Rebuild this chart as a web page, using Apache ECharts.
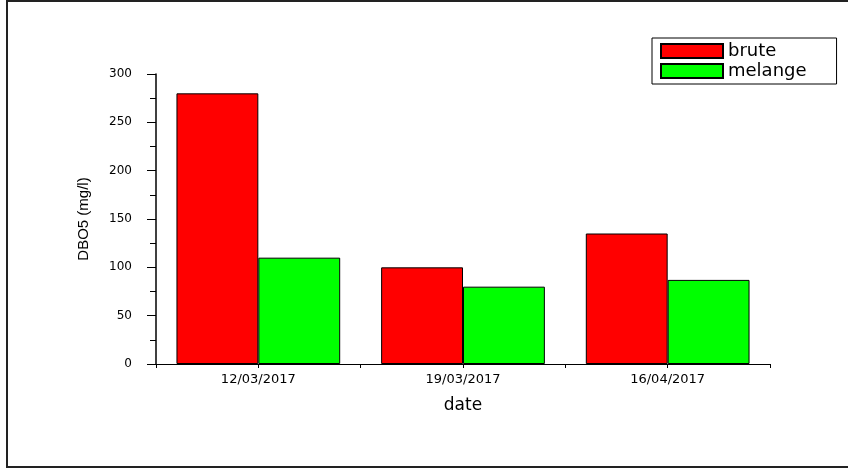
<!DOCTYPE html>
<html><head><meta charset="utf-8">
<script src="https://cdn.jsdelivr.net/npm/echarts@6/dist/echarts.min.js"></script>
<style>html,body{margin:0;padding:0;background:#fff}#c{width:848px;height:470px}</style>
</head><body><div id="c"></div>
<script>
const categories = ['12/03/2017', '19/03/2017', '16/04/2017'];
const brute = [280, 100, 135];
const melange = [110, 80, 87];
const yTicks = [0, 50, 100, 150, 200, 250, 300];

const chart = echarts.init(document.getElementById('c'), null, {renderer: 'canvas'});
const font = '"DejaVu Sans", Arial, sans-serif';
chart.setOption({
  animation: false,
  backgroundColor: '#fff',
  graphic: [{
    type: 'rect', shape: {x: 7, y: 1, width: 850, height: 466},
    style: {fill: 'none', stroke: '#222', lineWidth: 2}, silent: true
  }],
  grid: {left: 156, right: 78, top: 74, bottom: 106},
  legend: {
    orient: 'vertical', left: 652, top: 38,
    padding: [4, 30, 4, 8], itemGap: 2,
    itemWidth: 62, itemHeight: 14, icon: 'rect',
    borderColor: '#000', borderWidth: 1,
    textStyle: {fontFamily: font, fontSize: 18, color: '#000'},
    data: ['brute', 'melange']
  },
  xAxis: [{
    type: 'category', data: categories, position: 'bottom',
    name: 'date', nameLocation: 'middle', nameGap: 33,
    nameTextStyle: {fontFamily: font, fontSize: 17, color: '#000'},
    axisLine: {lineStyle: {color: '#000', width: 1}},
    axisTick: {show: true, length: 4, lineStyle: {color: '#000'}},
    axisLabel: {fontFamily: font, fontSize: 13, color: '#000', margin: 9}
  }, {
    type: 'category', data: categories, position: 'bottom',
    axisLine: {show: false},
    axisTick: {show: true, alignWithLabel: true, length: 4, lineStyle: {color: '#000'}},
    axisLabel: {show: false}
  }],
  yAxis: {
    type: 'value', min: 0, max: 300, interval: 50,
    name: 'DBO5 (mg/l)', nameLocation: 'middle', nameGap: 65,
    nameTextStyle: {fontFamily: 'Liberation Sans, Arial, sans-serif', fontSize: 15, color: '#000'},
    axisLine: {show: true, lineStyle: {color: '#000', width: 1.5}},
    axisTick: {show: true, length: 9, lineStyle: {color: '#000'}},
    minorTick: {show: true, splitNumber: 2, length: 6, lineStyle: {color: '#000'}},
    splitLine: {show: false},
    axisLabel: {fontFamily: font, fontSize: 12, color: '#000', margin: 24,
      formatter: v => yTicks.includes(v) ? String(v) : ''}
  },
  series: [{
    name: 'brute', type: 'bar', data: brute, barGap: '0%', barCategoryGap: '20%',
    itemStyle: {color: '#ff0000', borderColor: '#000', borderWidth: 1}
  }, {
    name: 'melange', type: 'bar', data: melange, barGap: '0%', barCategoryGap: '20%',
    itemStyle: {color: '#00ff00', borderColor: '#000', borderWidth: 1}
  }]
});
</script></body></html>
